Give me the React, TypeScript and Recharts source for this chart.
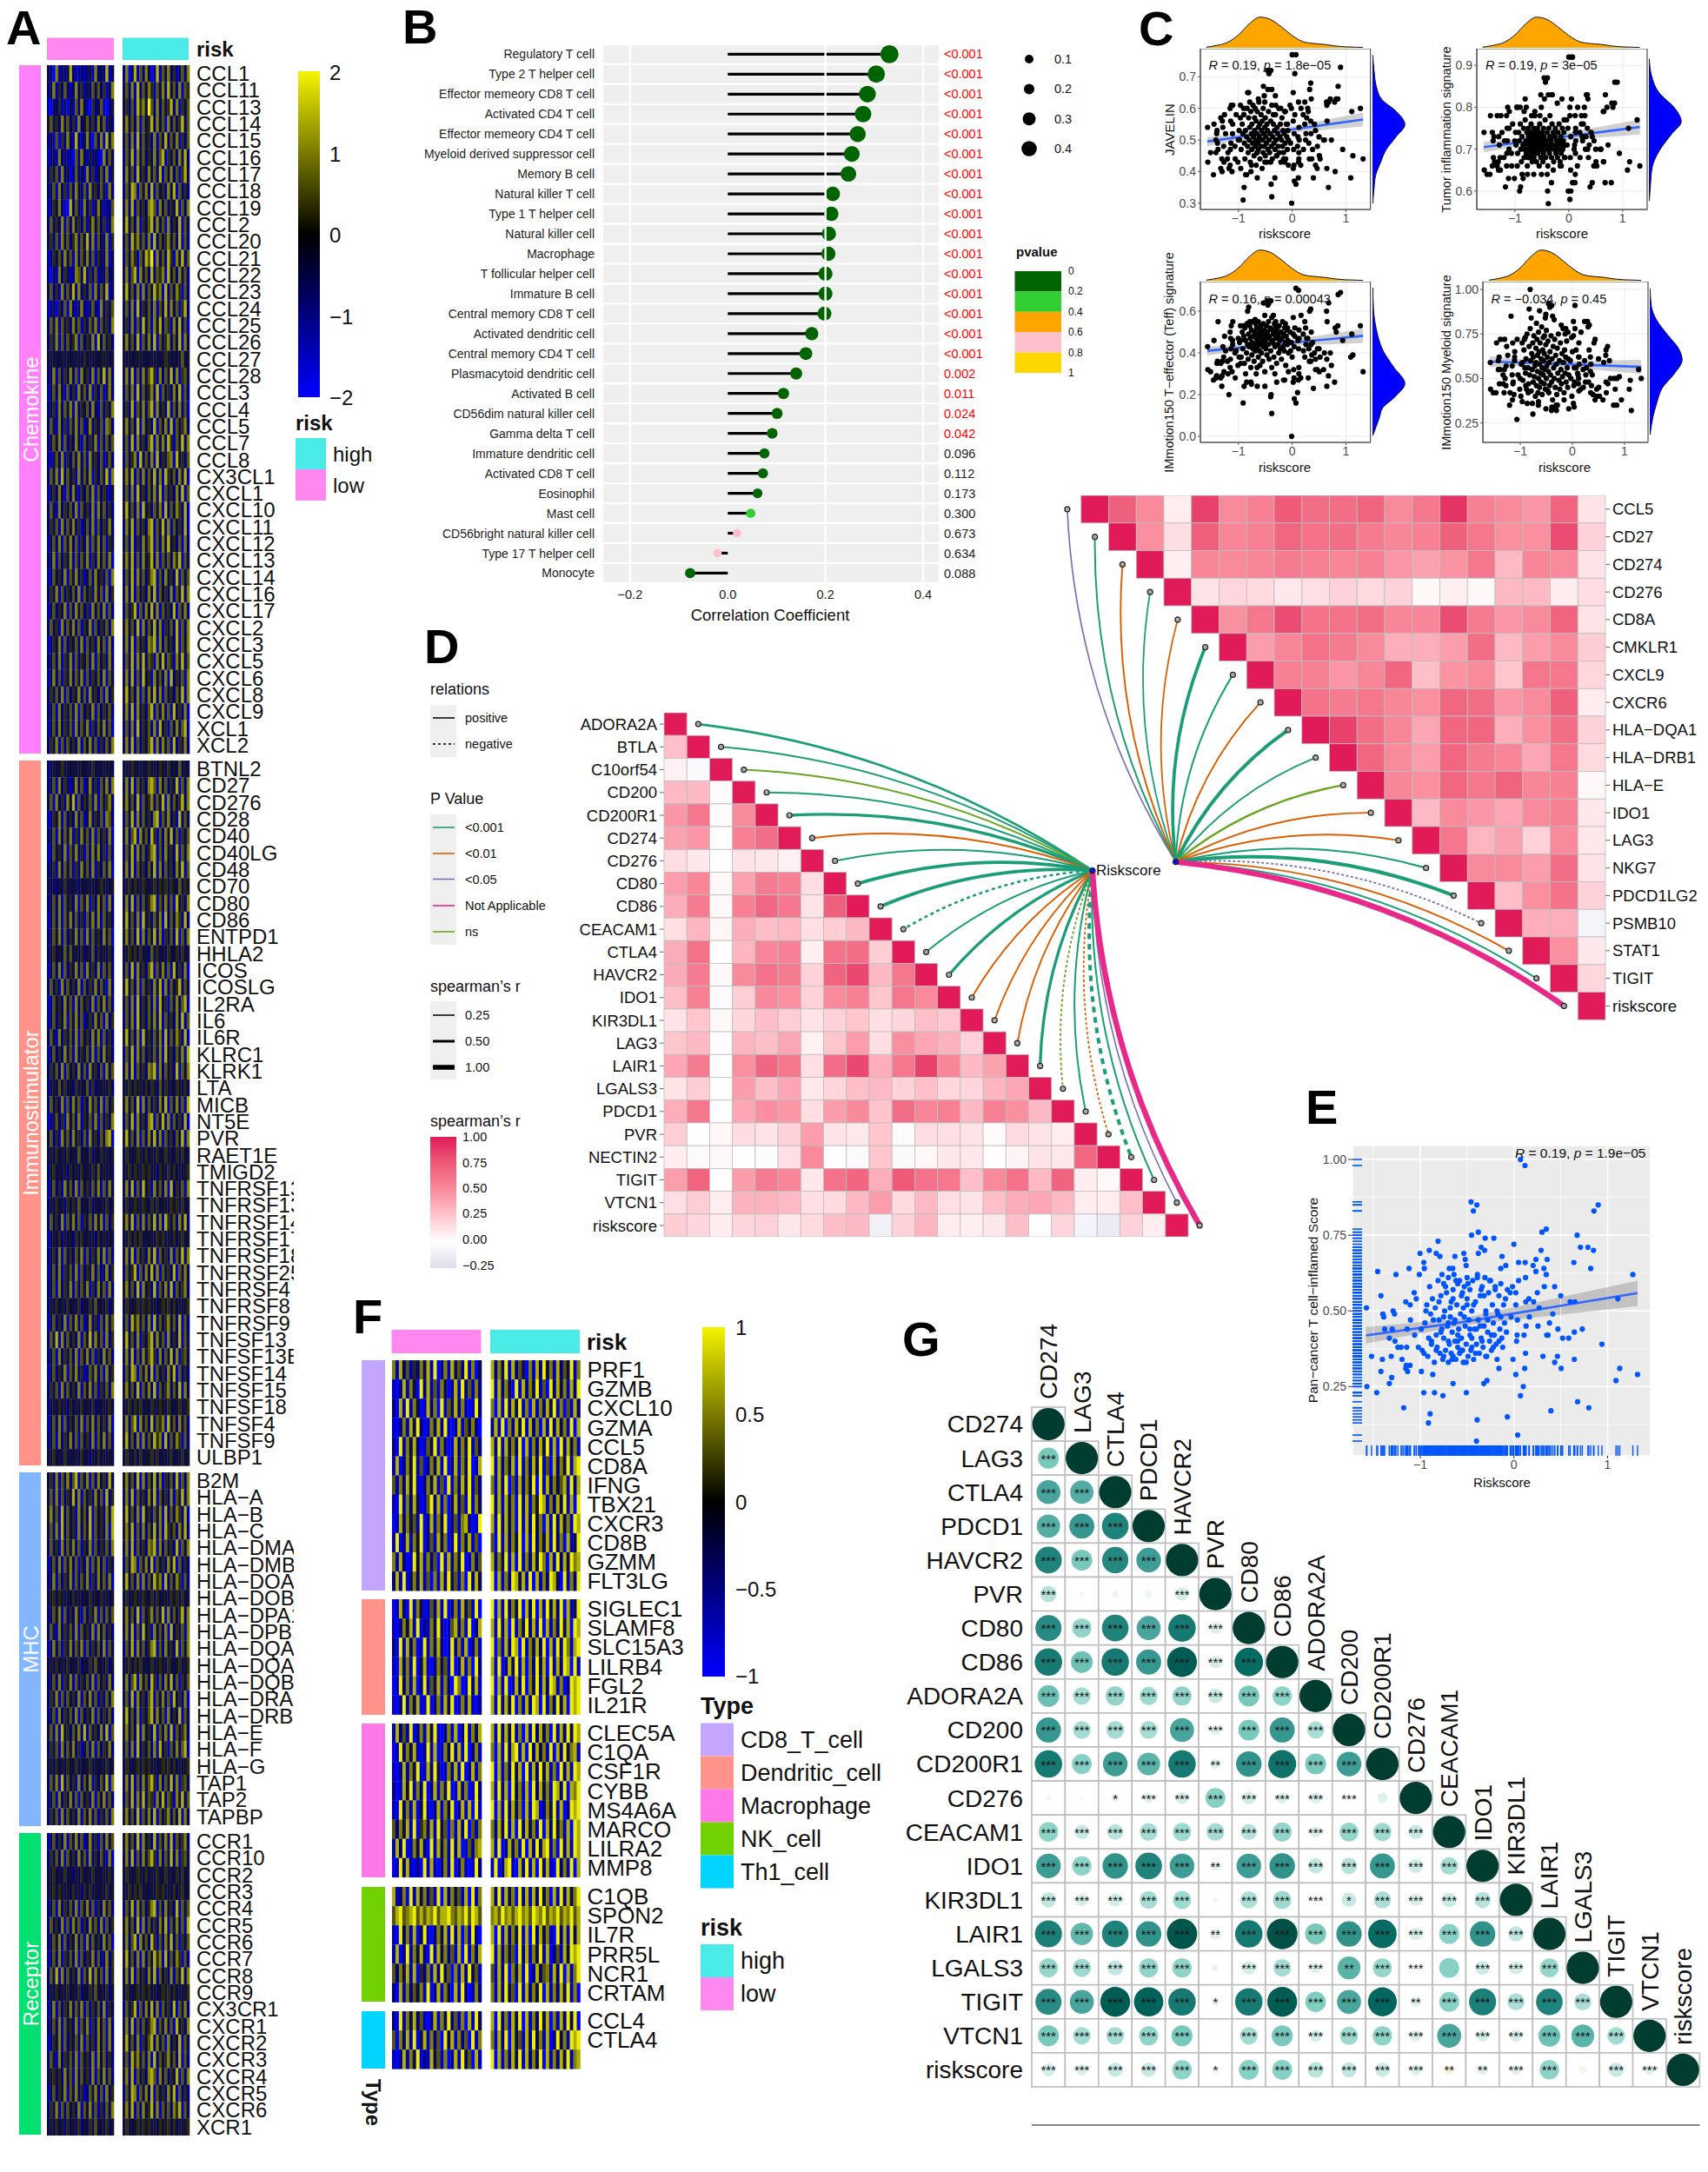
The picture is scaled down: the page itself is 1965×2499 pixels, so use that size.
import React from 'react';
import { ScatterChart, Scatter, XAxis, YAxis, ComposedChart, BarChart, Bar, Line, Area, AreaChart, CartesianGrid, ReferenceLine, ReferenceArea } from 'recharts';

const FONT = '"Liberation Sans", Arial, sans-serif';
const minus = (s: any) => String(s).replace('-', '\u2212');

// ---------- Panel A ----------
const chemokineGenes = ['CCL1','CCL11','CCL13','CCL14','CCL15','CCL16','CCL17','CCL18','CCL19','CCL2','CCL20','CCL21','CCL22','CCL23','CCL24','CCL25','CCL26','CCL27','CCL28','CCL3','CCL4','CCL5','CCL7','CCL8','CX3CL1','CXCL1','CXCL10','CXCL11','CXCL12','CXCL13','CXCL14','CXCL16','CXCL17','CXCL2','CXCL3','CXCL5','CXCL6','CXCL8','CXCL9','XCL1','XCL2'];
const immunoGenes = ['BTNL2','CD27','CD276','CD28','CD40','CD40LG','CD48','CD70','CD80','CD86','ENTPD1','HHLA2','ICOS','ICOSLG','IL2RA','IL6','IL6R','KLRC1','KLRK1','LTA','MICB','NT5E','PVR','RAET1E','TMIGD2','TNFRSF13B','TNFRSF13C','TNFRSF14','TNFRSF17','TNFRSF18','TNFRSF25','TNFRSF4','TNFRSF8','TNFRSF9','TNFSF13','TNFSF13B','TNFSF14','TNFSF15','TNFSF18','TNFSF4','TNFSF9','ULBP1'];
const mhcGenes = ['B2M','HLA\u2212A','HLA\u2212B','HLA\u2212C','HLA\u2212DMA','HLA\u2212DMB','HLA\u2212DOA','HLA\u2212DOB','HLA\u2212DPA1','HLA\u2212DPB1','HLA\u2212DQA1','HLA\u2212DQA2','HLA\u2212DQB1','HLA\u2212DRA','HLA\u2212DRB1','HLA\u2212E','HLA\u2212F','HLA\u2212G','TAP1','TAP2','TAPBP'];
const receptorGenes = ['CCR1','CCR10','CCR2','CCR3','CCR4','CCR5','CCR6','CCR7','CCR8','CCR9','CX3CR1','CXCR1','CXCR2','CXCR3','CXCR4','CXCR5','CXCR6','XCR1'];

const chemokineLow = [
'320713238212213317232813','237152631372514263625137','103251304162731052361024','463527362517246352736142','231605273182137206271837','123172312062731423107263','253617240262317251362714','236172516273261735263172','125372108263172513731226','263527162735261473625137',
'352617362572638271632715','125362736172637261532713','203172531276381526132623','362517263827252617263813','123052617213721362172536','263716352736152637163527','253716263571625371826352','343434343434353434344434','237162537261735271638272','136273162517362715261372',
'235172637172536273162537','263172516372613725361762','236371625273162537162636','213627152637261735261362','263718263517263715263817','135273162731526371625314','263172536271635271736252','253617263725136271625372','136271637261527163726153','237162537162637152736271',
'126352716372513627352617','253716253627163527361725','136253716273625173627162','263517263726153716253627','125371625362716352736172','236271537162536271635272','137261537263716253627163','253627162537261735261725','236172536271625371625362','136272536172637152637261','253716263527163726152637'];
const chemokineHigh = [
'270381627302816372513627','362718263751637283627165','352618573962726358271536','473627163582736172635826','362718263527163826371526','263817362537268153627382','273618352736281637261583','263871637281635273816252','372816352786173625381627','483627153682736172538163',
'362857362718263573628162','263751638691736285173826','372681736282657183627362','483627172638571826375162','362718253627163827361582','352716283617382651738261','473628163728163572638173','434344434343434543434634','372816273685172638271563','263718263572816352738162',
'352816372681735281637261','473628173528163728163572','362817352681737285163827','263571826371825367183526','473816272638271853627381','362718352637281635272816','483627183526371826375281','273816352781638271635281','362815273681627383526172','473816273582716362758163',
'263817362578162735281636','372816352738163527163827','263581627382716352816372','473628172638271536281627','372816352768172635281637','263817382651738265173826','372816283517362718253617','483627162738271635263817','372817352681637261835271','262718253627183516372681','372816253681727361825372'];
const immunoLow = [
'234345343434434353434343','236172531372613725163727','361725273816253627163572','125371625272613725361762','236172637152736271635271','126352716372516273725162','235172636152736271526371','333243534342434343453434','236271635271637152736172','136271637262516372716352',
'236371625372617263527361','245343636343524362534352','136271625372617352716362','263517263527162537263172','126352736172635271637262','136253716372613527361725','263172536271635273716252','136252736172536271627352','253627163527261735261736','234363534253436252434352',
'263527162736152736271635','123625173627153627162537','362517362735261735263781','343534353436343524353434','245343425343534353634343','136251736271635263716273','243534253536343524343534','263527163726153627371625','134352434253534342534343','235271635263716253727162',
'136271536271625372613725','236172537162637152736172','243534353435243536343524','136252716372613725162736','263817263527163827361725','236172536271637261527362','136253716372512637261735','253617263527163726153627','234353425343534352434353','136271625362716372635271','236172537261635271637262','345343534343534243534343'];
const immunoHigh = [
'343543434534354353436343','372816352786173625381627','473628163572638172635827','263817263527816372518263','372681736285162738261536','263817362578162735281637','372816352638172635273816','345354354345354535436354','372816263578163726183527','483627183526371826375282',
'473628172638271536281627','345453534263534354353534','362817352681637261835271','483627163527381726358263','362718253627183516372681','263718352637281635272816','483627183526371826375281','263817362536271835263718','372816352768172635281637','345354435354263534354353',
'473628172635273816372618','263817352781638271635281','483627162738271635263817','354345435343534534353534','345354354534254353534345','372816283517362718253617','353454354353534435453534','473816272638271853627382','345354534343545343534534','372816352738163527163827',
'263581627382716352816373','473628173528163728163572','354345354534345453534345','362857362718263573628162','483627153682736172538163','372816273685172638271563','263871637281635273816252','473628163728163572638173','345354534353454354345345','372681736282657183627362','483627172638571826375162','354353534453534345343534'];
const mhcLow = [
'352716372681637162735283','362716253827163527361825','473618263517362816352738','362718263517263816352718','263517263726153716253627','136271637261527163726153','237162537162637152736271','345354343534343534353434','236371625273162537162636','263172536271635271736252',
'137261537263716253627163','343534353435243536343524','236271537162536271635272','253716263527163726152637','236172536271625371625362','362718352637281635272816','253617263725136271625372','343534354353434534343534','263718263517263715263817','236172537261635271637262','253617263527163726153627'];
const mhcHigh = [
'473628172638271536281627','372816352738163527163827','483627183526371826375281','473816272638271853627382','372816352768172635281637','263871637281635273816252','483627172638571826375162','353454354353534435453534','473628163572638172635827','372816283517362718253617',
'263817362578162735281637','345354534353454354345345','372681736285162738261536','362817352681637261835271','483627153682736172538163','473628173528163728163572','362718253627183516372681','354345354534345453534345','372816273685172638271563','263817382651738265173826','473628163728163572638173'];
const receptorLow = [
'136252716372613725162736','253627163527361725263171','345343534243534353434353','345354343534253534343534','236172536271637261527362','263527162736152736271635','236371625372617263527361','136271536271625372613725','263817263527163827361725','243534353435243536343524',
'137162537263716253627153','236271635271637152736172','125371625362716352736172','263172536271635271736252','345352736172635271637262','136253716372512637261735','253716263527163726152637','343534253435243536343534'];
const receptorHigh = [
'473628173528163728163572','372816273685172638271563','354345435343534534353534','345354534343545343534534','263817362578162735281636','473628172635273816372618','372681736285162738261536','483627172638571826375162','372816352738163527163827','354345354534345453534345',
'263581627382716352816372','372816263578163726183527','483627153682736172538163','362857362718263573628162','472816352786173625381627','263871637281635273816252','473816273582716362758163','354345354534354453534345'];

// ---------- Panel F ----------
const cd8Genes = ['PRF1','GZMB','CXCL10','GZMA','CCL5','CD8A','IFNG','TBX21','CXCR3','CD8B','GZMM','FLT3LG'];
const dcGenes = ['SIGLEC1','SLAMF8','SLC15A3','LILRB4','FGL2','IL21R'];
const macGenes = ['CLEC5A','C1QA','CSF1R','CYBB','MS4A6A','MARCO','LILRA2','MMP8'];
const nkGenes = ['C1QB','SPON2','IL7R','PRR5L','NCR1','CRTAM'];
const th1Genes = ['CCL4','CTLA4',''];
const cd8Low = ['71826152738190271836291703','10281730928161730281926172','20819173018270916382710192','10271839201738291028163720','20917382016391720182739162','18027391602738190281739018','61728391027381609172839162','10917283016928170382619173','01827361902817390261782019','19028173902618370291738160','71820193817260918273901726','28190372816071829361709283'];
const cd8High = ['82739182630718293718263917','91827309182739160928371829','70819283917081728391706182','28190728391827081928371908','82918372908172839180928371','91827380917283916082739189','71829061827390918273681928','92818370928174981728391809','81928370918293708192837198','60918273908192738192708139','82739180917283970819283978','90817298381908172983091729'];
const dcLow = ['01820917301628190271836190','10273819021739201682719028','20918270191738201927180271','10827190381027361902817092','01927180291638172097019281','10291738019027183901728102'];
const dcHigh = ['90819273908290819382908139','81928091739281908172938098','90718298091738290819297189','81902839180729380918298091','90819018290739182981702989','81928390718298091729380989'];
const macLow = ['18261902718391027180291738','01927381029180173928190271','10281739018293017281902817','20183917290281739018270192','10927180391028173902818091','62738190572819360718290617','18290173820918371928016278','01928102091810271902710192'];
const macHigh = ['81928391708192837091829398','70819289180928371908293781','90817293809182938170928198','81928093718092837198290879','90819283708198027391802989','72839180928371908293718098','81902837190829389170928198','19028910829180928109271908'];
const nkLow = ['81270918372619082736180917','68967896868796889768796986','10927180391027381928071920','18029173820918372618091728','62738180527182936071829361','20817263719028173081920172'];
const nkHigh = ['82918370928182937081928379','78697868978698796879687968','80918273918092837109281938','91827360928173918026183989','61829073819028367182908179','71829360918273908172839170'];
const th1Low = ['20917382610281739261708193','60728190381726093817260917','10281739021836170281936081'];
const th1High = ['80927183908172938071829390','71829083618293718029371989','90817283918273908172839178'];

// ---------- Panel B ----------
const immuneCells = ['Regulatory T cell','Type 2 T helper cell','Effector memeory CD8 T cell','Activated CD4 T cell','Effector memeory CD4 T cell','Myeloid derived suppressor cell','Memory B cell','Natural killer T cell','Type 1 T helper cell','Natural killer cell','Macrophage','T follicular helper cell','Immature  B cell','Central memory CD8 T cell','Activated dendritic cell','Central memory CD4 T cell','Plasmacytoid dendritic cell','Activated B cell','CD56dim natural killer cell','Gamma delta T cell','Immature dendritic cell','Activated CD8 T cell','Eosinophil','Mast cell','CD56bright natural killer cell','Type 17 T helper cell','Monocyte'];
const immuneCor = [0.331,0.304,0.286,0.277,0.266,0.254,0.247,0.215,0.212,0.207,0.206,0.2,0.2,0.198,0.172,0.16,0.14,0.114,0.101,0.091,0.075,0.072,0.061,0.047,0.019,-0.021,-0.077];
const immuneP = ['<0.001','<0.001','<0.001','<0.001','<0.001','<0.001','<0.001','<0.001','<0.001','<0.001','<0.001','<0.001','<0.001','<0.001','<0.001','<0.001','0.002','0.011','0.024','0.042','0.096','0.112','0.173','0.300','0.673','0.634','0.088'];
const pColorOf = (p: string) => { const n = p === '<0.001' ? 0 : +p; return n < 0.2 ? '#006400' : n < 0.4 ? '#32cd32' : n < 0.6 ? '#ffa500' : n < 0.8 ? '#ffc0cb' : '#ffd700'; };
const bData = immuneCells.map((name, i) => ({ name, r: immuneCor[i], p: immuneP[i], range: immuneCor[i] >= 0 ? [0, immuneCor[i]] : [immuneCor[i], 0] }));

// ---------- Scatter data (shared riskscore, one list per score) ----------
const riskscore = [1.32,1.27,1.13,1.09,1.11,.94,.9,.855,.85,.82,.79,.8,.73,.71,.675,.68,.65,.645,.645,.64,.6,.585,.52,.5,.505,.47,.465,.435,.435,.415,.395,.38,.365,.35,.325,.355,.345,.345,.3,.29,.32,.31,.257,.27,.25,.235,.235,.205,.21,.16,.165,.13,.127,.124,.12,.118,.07,.124,.115,.108,.1,.07,.05,.05,.04,.034,.028,.02,.02,.02,0,-.015,-.01,.037,-.03,-.07,-.04,
-1.575,-1.57,-1.52,-1.465,-1.455,-1.42,-1.42,-1.405,-1.4,-1.39,-1.38,-1.33,-1.33,-1.31,-1.305,-1.3,-1.29,-1.275,-1.27,-1.26,-1.195,-1.24,-1.205,-1.177,-1.155,-1.14,-1.145,-1.15,-1.155,-1.135,-1.11,-1.12,-1.108,-1.105,
-1.065,-1.06,-1.043,-1.003,-1.01,-.988,-.963,-.963,-.957,-.913,-.895,-.904,-.867,-.848,-.81,-.83,-.79,-.758,-.65,-.508,-.458,-.396,-.433,-.38,-.452,-.307,-.214,-.35,-.313,-.38,-.127,-.087,-.14,-.393,-.4,-.322,-.288,-.16,-.63,-.535,-.52,-.51,-.69,-.653,-.768,
-.98,-.95,-.93,-.92,-.9,-.89,-.88,-.87,-.85,-.84,-.83,-.82,-.81,-.8,-.79,-.78,-.77,-.76,-.75,-.75,-.74,-.73,-.72,-.71,-.7,-.7,-.69,-.68,-.67,-.67,-.66,-.65,-.65,-.64,-.63,-.63,-.62,-.61,-.6,-.6,-.59,-.58,-.58,-.57,-.56,-.56,-.55,-.54,-.54,-.53,-.52,-.51,-.5,-.5,-.49,-.48,-.47,-.47,-.46,-.45,-.44,-.43,-.42,-.41,-.4,-.39,-.38,-.37,-.36,-.35,-.34,-.33,-.32,-.31,-.3,-.29,-.28,-.27,-.26,-.25,-.24,-.23,-.22,-.21,-.2,-.19,-.18,-.17,-.16,-.15,-.14,-.13,-.12,-.11,-.1,-.09,-.08,-.07];
const panCancerPct = [29,62,31,27,54,39,85,83,70,64,71,18,44,71,75,20,53,43,34,66,53,41,41,55,31,44,35,33,58,49,17,46,42,42,58,67,62,77,76,70,64,35,45,51,56,63,67,65,53,54,48,45,53,61,66,98,100,36,31,42,25,22,66,60,9,42,40,29,52,56,72,58,34,47,48,15,56,
51,25,35,23,63,55,30,34,49,48,44,41,26,35,28,44,50,49,40,62,34,38,38,18,53,44,38,32,31,30,32,64,52,47,
56,42,54,69,62,30,66,23,64,13,16,70,29,23,73,69,68,22,26,23,86,85,83,76,75,74,74,71,70,69,68,65,64,14,7,26,27,31,68,69,67,65,64,64,62,
37,46,52,35,58,49,40,54,33,51,42,38,60,47,36,55,44,34,59,41,50,37,56,45,33,61,39,48,53,36,43,57,35,62,47,40,34,52,59,38,44,36,60,49,41,55,37,51,33,58,45,39,54,61,35,47,42,57,37,50,60,34,44,53,39,62,47,36,55,41,58,38,45,61,50,35,43,56,40,60,37,52,46,42,57,39,34,49,55,44,59,41,38,52,46,54,43,57];
const javelinPct = [44,60,45,38,59,47,73,67,63,63,62,40,50,63,35,62,56,41,61,62,50,50,44,51,45,48,41,42,53,55,38,47,44,52,66,63,68,56,59,60,44,49,52,57,50,62,55,58,47,42,60,50,54,46,43,62,77,44,38,51,48,36,71,58,37,42,47,41,56,65,77,60,30,52,49,42,61,
54,43,46,39,55,50,46,52,53,49,47,57,41,44,40,56,54,48,43,58,46,52,44,41,60,49,56,47,42,61,52,40,55,61,
48,44,58,50,43,53,61,57,41,31,35,60,39,39,65,65,62,42,38,43,72,72,71,66,66,61,60,58,64,32,59,55,43,36,43,38,45,44,63,67,64,62,60,46,40,
50,47,55,52,58,49,44,53,51,60,48,46,57,50,54,43,59,52,47,55,49,61,51,45,53,57,48,50,42,56,52,46,59,49,54,47,62,51,44,55,50,58,48,53,41,56,50,46,60,52,48,54,45,57,51,49,43,55,53,47,59,50,46,52,56,48,61,44,51,55,49,53,47,58,50,45,54,52,48,60,46,51,55,43,50,57,48,53,46,52,59,49,44,55,51,47,53,50];
const tisPct = [66,77,67,65,75,69,86,86,81,80,62,81,71,80,62,83,79,67,67,79,70,70,66,70,67,72,66,62,73,74,61,71,68,70,83,82,83,75,78,80,73,70,72,76,73,78,76,74,68,66,80,72,75,74,64,78,92,69,62,71,70,62,92,82,60,65,68,58,78,80,92,75,60,73,71,68,77,
74,65,64,64,78,74,66,72,68,73,67,78,66,67,65,73,71,68,65,78,72,74,68,61,78,72,75,69,66,80,70,63,75,79,
69,66,76,72,63,74,80,80,66,60,61,80,64,63,82,79,80,68,64,64,87,87,86,83,82,83,81,78,83,57,82,77,66,60,64,62,65,66,79,78,83,80,78,68,64,
71,69,74,72,76,70,67,73,71,75,68,70,77,72,69,74,66,71,73,75,70,68,72,74,69,76,71,67,73,70,72,75,68,71,74,78,69,72,70,67,73,75,71,69,74,72,66,70,76,73,68,71,74,70,72,67,75,69,73,71,77,68,72,70,74,66,71,75,69,73,70,72,68,76,71,74,67,70,73,75,69,72,71,68,74,70,76,72,67,73,69,71,75,70,72,74,68,71];
const teffPct = [31,53,39,38,49,46,69,68,53,50,26,52,34,40,29,64,55,24,37,60,40,32,38,42,31,42,32,32,37,40,23,45,39,44,60,50,61,36,28,47,36,42,44,47,52,55,38,49,41,28,58,47,51,33,42,70,71,30,27,46,21,16,48,52,18,28,32,26,49,57,38,45,0,43,41,31,50,
43,32,31,27,46,28,28,29,35,36,55,35,28,24,29,36,43,38,31,48,30,41,36,20,50,42,47,37,33,53,46,31,44,55,
40,28,41,47,34,38,53,46,35,16,24,53,30,26,62,60,55,25,24,24,65,65,64,57,63,55,50,58,53,11,54,52,27,20,19,30,26,27,52,64,50,58,56,33,26,
45,38,50,42,48,35,52,46,40,54,44,37,49,43,53,47,33,51,45,39,55,42,48,36,50,44,41,54,47,30,52,46,43,49,38,55,45,41,51,34,48,44,53,40,47,50,36,54,43,46,51,31,49,45,42,53,39,47,50,44,55,37,48,52,41,46,33,51,45,49,38,54,43,47,50,35,52,44,48,40,53,46,42,50,37,47,55,43,49,41,52,45,34,48,51,44,46,40];
const myeloidPct = [50,55,32,44,49,38,51,50,35,44,35,50,50,60,68,47,42,66,48,63,59,38,40,61,45,40,44,38,72,70,41,52,46,42,80,58,54,62,79,82,66,48,52,56,48,60,82,55,45,44,76,58,62,70,50,62,66,43,47,52,53,56,91,78,48,34,46,36,74,82,65,73,40,56,50,33,60,
59,44,42,42,70,55,60,62,47,55,72,52,47,42,55,72,50,46,57,68,42,63,35,85,52,47,70,38,57,48,60,41,62,65,
27,72,52,50,44,40,70,37,59,56,46,73,36,42,100,89,84,30,37,33,92,91,90,85,42,32,80,83,35,33,78,76,75,34,32,33,35,38,88,74,84,86,81,35,36,
58,49,66,72,53,61,44,75,56,47,68,52,78,60,43,64,55,70,48,62,74,51,57,40,67,59,46,72,54,63,42,76,50,65,58,45,70,53,61,48,79,56,41,66,52,73,60,47,64,55,44,69,50,77,57,62,43,71,54,59,46,65,52,74,48,61,38,68,56,50,72,45,63,58,41,67,53,75,49,60,44,70,55,47,64,51,78,59,42,66,53,62,48,71,56,45,61,52];
const panExtraX = [-1.02,-.99,-.96,-.94,-.91,-.88,-.86,-.83,-.8,-.78,-.75,-.73,-.7,-.68,-.66,-.64,-.62,-.6,-.57,-.55,-.53,-.51,-.49,-.47,-.45,-.43,-.41,-.39,-.36,-.34,-.32,-.3,-.28,-.26,-.24,-.22,-.2,-.18,-.16,-.14,-.7,-.6,-.5,-.4,-.3,-.55,-.45,-.35,-.65,-.75];
const panExtraY = [38,44,36,50,41,39,47,37,53,43,35,58,40,51,34,46,60,42,37,56,48,33,59,44,38,52,36,61,45,40,55,35,47,60,42,38,58,50,40,48,46,40,52,44,49,37,41,57,54,48];

const densTopX = [-1.6,-1.4,-1.2,-1,-.8,-.6,-.4,-.2,0,.2,.4,.6,.8,1,1.2,1.32];
const densTopD = [.02,.08,.18,.42,.78,1,.92,.68,.4,.2,.14,.11,.06,.03,.02,.01];
const javelinDens = { y: [.3,.35,.4,.44,.48,.52,.56,.6,.64,.68,.72,.77], d: [.01,.05,.12,.28,.75,1,.72,.42,.25,.1,.05,.01] };
const tisDens = { y: [.58,.62,.66,.7,.73,.76,.8,.84,.88,.92], d: [.01,.08,.3,.82,1,.7,.32,.1,.05,.01] };
const teffDens = { y: [0,.1,.2,.3,.38,.46,.52,.58,.62,.68,.71], d: [.01,.03,.12,.32,.65,1,.72,.3,.22,.08,.01] };
const myeloidDens = { y: [.18,.28,.36,.44,.52,.58,.66,.74,.82,.9,1], d: [.01,.05,.22,.55,.9,1,.75,.38,.22,.1,.01] };

const fitX = [-1.58,-.55,1.32];
const javelinFit = { y: [.495,.52,.565], lo: [.48,.515,.543], hi: [.51,.525,.587] };
const tisFit = { y: [.705,.722,.753], lo: [.692,.717,.735], hi: [.718,.727,.771] };
const teffFit = { y: [.41,.435,.482], lo: [.388,.428,.448], hi: [.432,.442,.516] };
const myeloidFit = { y: [.595,.585,.565], lo: [.565,.575,.525], hi: [.625,.595,.605] };
const panFit = { y: [.419,.463,.559], lo: [.392,.451,.516], hi: [.447,.475,.6] };

// ---------- Network correlations ----------
const dGenes = ['ADORA2A','BTLA','C10orf54','CD200','CD200R1','CD274','CD276','CD80','CD86','CEACAM1','CTLA4','HAVCR2','IDO1','KIR3DL1','LAG3','LAIR1','LGALS3','PDCD1','PVR','NECTIN2','TIGIT','VTCN1','riskscore'];
const dMatrix = [[],[.28],[.06,-.04],[.3,.3,.02],[.45,.6,.02,.5],[.4,.45,.01,.55,.65],[.15,.1,0,.12,.1,.06],[.42,.52,.03,.4,.58,.55,.15],[.35,.58,.03,.55,.68,.6,.12,.72],[.14,.32,.04,.35,.28,.3,.14,.22,.3],[.36,.62,.01,.32,.52,.55,.07,.62,.65,.22],[.36,.58,.03,.5,.62,.58,.2,.7,.82,.3,.6],[.28,.55,-.03,.22,.5,.48,.2,.5,.55,.25,.6,.5],[.12,.25,.03,.18,.28,.22,.12,.2,.25,.14,.18,.28,.24],[.25,.3,.02,.32,.28,.38,.06,.25,.42,.14,.48,.38,.33,.2],[.38,.58,.01,.48,.68,.6,.14,.65,.82,.35,.6,.85,.52,.3,.4],[.12,.22,.01,.42,.28,.38,.1,.18,.28,.3,.2,.28,.18,.18,.32,.38],[.35,.6,.01,.38,.48,.45,.14,.42,.5,.26,.65,.52,.55,.3,.55,.48,.3],[.22,.01,.04,.15,.12,.2,.42,.12,.1,.25,.02,.15,.14,.12,.02,.16,.12,.08],[.08,-.03,.03,.01,-.02,.14,.5,.01,-.03,.25,-.04,.04,.1,.1,.01,.05,.12,.1,.68],[.42,.7,.01,.42,.58,.52,.1,.62,.68,.35,.75,.62,.6,.28,.5,.62,.3,.7,.08,.03],[.14,.22,.08,.33,.33,.3,.14,.16,.3,.42,.16,.3,.14,.12,.28,.35,.38,.3,.08,.08,.28],[.22,.18,.08,.18,.2,.1,.16,.28,.3,-.1,.2,.32,.08,.07,.1,.28,-.01,.18,-.08,-.15,.2,.08]];
const dLinkP = ['<0.001','<0.001','ns','<0.001','<0.001','<0.01','<0.001','<0.001','<0.001','<0.001','<0.001','<0.001','<0.01','<0.01','<0.01','<0.001','ns','<0.001','<0.01','<0.001','<0.001','<0.05','NA'];
const dLinkR = [.3,.18,.16,.18,.42,.18,.18,.5,.5,-.28,.18,.42,.17,.16,.16,.42,-.16,.18,-.15,-.55,.18,.1,1];
const uGenes = ['CCL5','CD27','CD274','CD276','CD8A','CMKLR1','CXCL9','CXCR6','HLA\u2212DQA1','HLA\u2212DRB1','HLA\u2212E','IDO1','LAG3','NKG7','PDCD1LG2','PSMB10','STAT1','TIGIT','riskscore'];
const uMatrix = [[.72,.5,.08,.85,.5,.55,.75,.65,.65,.7,.5,.6,.9,.55,.5,.45,.7,.12],[.48,.14,.72,.52,.55,.68,.62,.65,.58,.52,.55,.72,.6,.48,.48,.8,.2],[.07,.52,.5,.52,.58,.55,.52,.55,.45,.4,.46,.6,.3,.53,.5,.12],[.12,.18,.16,.1,.14,.2,.16,.2,.03,.07,.03,.3,.3,.08,.15],[.47,.6,.8,.62,.62,.65,.52,.52,.8,.58,.45,.5,.7,.12],[.42,.52,.62,.58,.5,.35,.35,.42,.65,.3,.42,.5,.22],[.55,.55,.45,.52,.68,.28,.46,.5,.25,.6,.6,.18],[.62,.58,.6,.52,.48,.68,.65,.45,.5,.72,.08],[.85,.65,.52,.38,.68,.68,.35,.48,.65,.2],[.68,.5,.42,.68,.58,.52,.38,.6,.16],[.52,.48,.68,.6,.7,.52,.55,.03],[.3,.5,.45,.38,.5,.55,.1],[.6,.32,.4,.2,.5,.1],[.5,.5,.42,.65,.12],[.28,.48,.62,.2],[.35,.35,-.08],[.48,.1],[.18],[]];
const uLinkP = ['<0.05','<0.001','<0.01','<0.001','<0.01','<0.001','<0.001','<0.01','<0.001','<0.001','ns','<0.01','<0.01','<0.001','<0.001','<0.05','<0.01','<0.001','NA'];
const uLinkR = [.12,.18,.17,.14,.14,.5,.17,.17,.55,.17,.25,.17,.17,.2,.55,-.15,.17,.17,1];
const PCOL: any = { '<0.001': '#1b9e77', '<0.01': '#d95f02', '<0.05': '#7570b3', NA: '#e7298a', ns: '#66a61e' };

// ---------- Panel G ----------
const gGenes = ['CD274','LAG3','CTLA4','PDCD1','HAVCR2','PVR','CD80','CD86','ADORA2A','CD200','CD200R1','CD276','CEACAM1','IDO1','KIR3DL1','LAIR1','LGALS3','TIGIT','VTCN1','riskscore'];
const gMatrix = [[],[.42],[.55,.52],[.52,.6,.68],[.68,.42,.66,.58],[.25,.02,.05,.05,.16],[.65,.35,.68,.55,.72,.12],[.72,.45,.72,.6,.85,.14,.78],[.45,.3,.35,.32,.35,.2,.42,.36],[.6,.3,.3,.3,.55,.1,.42,.6,.28],[.72,.38,.58,.5,.72,.1,.62,.75,.42,.58],[.03,.01,.06,.1,.14,.38,.16,.12,.12,.01,.1],[.36,.2,.24,.3,.32,.3,.25,.35,.12,.34,.32,.2],[.58,.36,.62,.68,.58,.08,.58,.62,.22,.25,.6,.18,.3],[.22,.14,.16,.3,.32,.03,.28,.32,.05,.2,.28,.14,.2,.25],[.7,.48,.68,.62,.88,.1,.72,.9,.42,.62,.78,.14,.38,.62,.22],[.34,.32,.22,.35,.36,.04,.16,.3,.1,.5,.34,.02,.38,.18,.16,.34],[.65,.55,.85,.82,.72,.06,.72,.85,.4,.55,.8,.1,.38,.7,.28,.68,.28],[.42,.3,.3,.35,.42,.01,.3,.42,.14,.32,.36,.12,.55,.14,.14,.45,.5,.3],[.16,.12,.2,.2,.36,-.05,.38,.38,.24,.22,.2,.12,-.09,.1,.1,.36,-.05,.2,.1]];
const gStars = ['','3','33','333','3333','30003','333333','3333333','33333333','333333333','3333323333','001333333302'.slice(0,11),'333333333333','3333323333333','33333033313333','333332333333333'.slice(0,15),'3333303332330333'.slice(0,16),'33333133333233333','333330333333333333','3333313333332233033'];
const gTicks = [-1,-.8,-.6,-.4,-.2,0,.2,.4,.6,.8,1];

// ---------- helpers ----------
const HEAT = ['#0000ff','#0000bb','#000080','#0a0a50','#12122a','#2a2a10','#55550a','#808000','#b0b000','#eeee00'];
const hex = (c: string) => [1,3,5].map(i => parseInt(c.slice(i,i+2),16));
const ramp = (stops: [number,string][], v: number) => {
  if (v <= stops[0][0]) return stops[0][1];
  for (let i = 1; i < stops.length; i++) if (v <= stops[i][0]) {
    const t = (v - stops[i-1][0]) / (stops[i][0] - stops[i-1][0]); const a = hex(stops[i-1][1]), b = hex(stops[i][1]);
    return `rgb(${a.map((x,k)=>Math.round(x+(b[k]-x)*t)).join(',')})`;
  }
  return stops[stops.length-1][1];
};
const PINK: [number,string][] = [[-.25,'#dfdcee'],[0,'#ffffff'],[.25,'#ffc6ce'],[.5,'#f98a9b'],[.75,'#ee5a78'],[1,'#e01b58']];
const BRBG: [number,string][] = [[-1,'#543005'],[-.8,'#8c510a'],[-.6,'#bf812d'],[-.4,'#dfc27d'],[-.2,'#f6e8c3'],[0,'#f8f8f4'],[.2,'#c7eae5'],[.4,'#80cdc1'],[.6,'#35978f'],[.8,'#01665e'],[1,'#003c30']];

const Pos = ({ left, top, children }: any) => <div style={{ position: 'absolute', left, top }}>{children}</div>;

function Heat({ left, top, rowH, cellW, gap, cols, genes, low, high, labelW, fontSize }: any) {
  const cells: any[] = [];
  low.forEach((s: string, r: number) => [...s].forEach((ch, i) => cells.push({ col: i + .5, row: r, v: +ch })));
  high.forEach((s: string, r: number) => [...s].forEach((ch, i) => cells.push({ col: cols + gap + i + .5, row: r, v: +ch })));
  const W = (2 * cols + gap) * cellW; const H = genes.length * rowH;
  const shape = (p: any) => <rect x={p.cx - cellW / 2} y={p.cy - rowH / 2} width={cellW + .3} height={rowH + .3} fill={HEAT[p.payload.v]} />;
  return <Pos left={left} top={top - 8}>
    <ScatterChart width={W + labelW} height={H + 16} margin={{ top: 8, bottom: 8, left: 0, right: 0 }}>
      <XAxis type="number" dataKey="col" domain={[0, 2 * cols + gap]} hide />
      <YAxis type="number" dataKey="row" orientation="right" reversed domain={[-.5, genes.length - .5]} ticks={genes.map((_: any, i: number) => i)} interval={0} width={labelW}
        tickFormatter={(i: number) => genes[i]} axisLine={false} tickLine={false} tickMargin={2} tick={{ fontSize, fill: '#111' }} />
      <Scatter data={cells} shape={shape} isAnimationActive={false} />
    </ScatterChart>
  </Pos>;
}

function Tri({ left, top, cell, genes, cells, ends, hub, domain, side, labelW, curv }: any) {
  const W = (domain[1] - domain[0]) * cell; const H = genes.length * cell;
  const cellShape = (p: any) => <rect x={p.cx - cell / 2} y={p.cy - cell / 2} width={cell} height={cell} fill={ramp(PINK, p.payload.v)} stroke="#bdbdbd" strokeWidth={.8} />;
  const endShape = (p: any) => {
    const e = p.payload; const hx = p.cx + (hub.col - e.col) * cell, hy = p.cy + (hub.row - e.row) * cell;
    const mx = (p.cx + hx) / 2, my = (p.cy + hy) / 2, dx = hx - p.cx, dy = hy - p.cy;
    const qx = mx + curv * dy, qy = my - curv * dx; const w = 1 + 5.5 * Math.abs(e.r);
    return <g>
      <path d={`M${hx},${hy} Q${qx},${qy} ${p.cx},${p.cy}`} fill="none" stroke={PCOL[e.p]} strokeWidth={w} strokeDasharray={e.r < 0 ? `${w * 1.6} ${w * 1.4}` : undefined} />
      <circle cx={p.cx} cy={p.cy} r={3} fill="#aaa" stroke="#222" strokeWidth={1.2} />
    </g>;
  };
  const hubShape = (p: any) => <circle cx={p.cx} cy={p.cy} r={3.2} fill="#1010e0" stroke="#111" strokeWidth={1} />;
  return <Pos left={left - (side === 'left' ? labelW : 0)} top={top}>
    <ScatterChart width={W + labelW} height={H} margin={{ top: 0, bottom: 0, left: 0, right: 0 }}>
      <XAxis type="number" dataKey="col" domain={domain} hide />
      <YAxis type="number" dataKey="row" orientation={side} reversed domain={[-.5, genes.length - .5]} ticks={genes.map((_: any, i: number) => i)} interval={0} width={labelW}
        tickFormatter={(i: number) => genes[i]} axisLine={false} tickSize={5} tickMargin={3} tick={{ fontSize: 18.5, fill: '#111' }} />
      <Scatter data={cells} shape={cellShape} isAnimationActive={false} />
      <Scatter data={ends} shape={endShape} isAnimationActive={false} />
      <Scatter data={[hub]} shape={hubShape} isAnimationActive={false} />
    </ScatterChart>
  </Pos>;
}

const pctPts = (ys: number[]) => ys.map((y, i) => ({ x: riskscore[i], y: y / 100 })).filter(p => p.x !== undefined);

function ScatterPanel({ left, top, w, h, xd, yd, yTicks, digits, ys, fit, dens, xAxisLabel }: any) {
  const yScale = yd[1] <= 1.1 ? 1 : 1;
  const pts = pctPts(ys);
  const pad = 48;
  const band = fitX.map((x, i) => ({ x, band: [fit.lo[i], fit.hi[i]] }));
  const line = fitX.map((x, i) => ({ x, y: fit.y[i] * yScale }));
  const dot = (p: any) => <circle cx={p.cx} cy={p.cy} r={3.1} fill="#000" />;
  const topD = densTopX.map((x, i) => ({ x, d: densTopD[i] }));
  const rightD = dens.y.map((y: number, i: number) => ({ y, d: dens.d[i] }));
  return <>
    <Pos left={left} top={top - 37}>
      <AreaChart width={w} height={36} data={topD} margin={{ top: 0, bottom: 0, left: 0, right: 0 }}>
        <XAxis type="number" dataKey="x" domain={xd} hide />
        <YAxis type="number" domain={[0, 1.02]} hide />
        <Area type="monotone" dataKey="d" fill="#ffa500" fillOpacity={1} stroke="#111" strokeWidth={1} isAnimationActive={false} dot={false} />
      </AreaChart>
    </Pos>
    <Pos left={left + w + 2} top={top}>
      <AreaChart width={38} height={h} layout="vertical" data={rightD} margin={{ top: 0, bottom: 0, left: 0, right: 0 }}>
        <XAxis type="number" domain={[0, 1.02]} hide />
        <YAxis type="number" dataKey="y" domain={yd} hide />
        <Area type="monotone" dataKey="d" fill="#0000ff" fillOpacity={1} stroke="#111" strokeWidth={1} isAnimationActive={false} dot={false} />
      </AreaChart>
    </Pos>
    <Pos left={left - pad} top={top}>
      <ComposedChart width={w + pad + 2} height={h + 30} margin={{ top: 0, right: 2, bottom: 0, left: 0 }}>
        <CartesianGrid stroke="#ececec" />
        <XAxis type="number" dataKey="x" domain={xd} ticks={[-1, 0, 1]} allowDataOverflow height={30} tickFormatter={minus} tick={{ fontSize: 14, fill: '#4d4d4d' }} tickSize={3} stroke="#555" />
        <YAxis type="number" dataKey="y" domain={yd} ticks={yTicks} allowDataOverflow width={pad} tickFormatter={(v: number) => v.toFixed(digits)} tick={{ fontSize: 14, fill: '#4d4d4d' }} tickSize={3} stroke="#555" />
        <ReferenceArea x1={xd[0]} x2={xd[1]} y1={yd[0]} y2={yd[1]} fill="none" stroke="#555" strokeWidth={1.2} ifOverflow="visible" />
        <Scatter data={pts} shape={dot} isAnimationActive={false} />
        <Area data={band} type="linear" dataKey="band" fill="#999" fillOpacity={.45} stroke="none" isAnimationActive={false} dot={false} />
        <Line data={line} type="linear" dataKey="y" stroke="#3366ff" strokeWidth={2.6} dot={false} isAnimationActive={false} />
      </ComposedChart>
    </Pos>
  </>;
}

function PanelE() {
  const xd = [-1.724, 1.46], yd = [0.0214, 1.046];
  const pts = [...pctPts(panCancerPct), ...panExtraX.map((x, i) => ({ x, y: panExtraY[i] / 100 }))];
  const band = fitX.map((x, i) => ({ x, band: [panFit.lo[i], panFit.hi[i]] }));
  const line = fitX.map((x, i) => ({ x, y: panFit.y[i] }));
  const B = '#0055ff';
  const dot = (p: any) => <circle cx={p.cx} cy={p.cy} r={3.1} fill={B} />;
  const rugY = pts.map(p => ({ x: xd[0], y: p.y }));
  const rugX = pts.map(p => ({ x: p.x, y: yd[0] }));
  const ry = (p: any) => <line x1={p.cx} x2={p.cx + 11} y1={p.cy} y2={p.cy} stroke={B} strokeWidth={1.6} />;
  const rx = (p: any) => <line x1={p.cx} x2={p.cx} y1={p.cy} y2={p.cy - 12} stroke={B} strokeWidth={1.4} />;
  return <Pos left={1506} top={1318}>
    <ComposedChart width={395} height={387} margin={{ top: 0, right: 2, bottom: 0, left: 0 }}>
      <CartesianGrid fill="#ebebeb" stroke="#fff" strokeWidth={1.6} />
      {[-1.5, -.5, .5].map(x => <ReferenceLine key={x} x={x} stroke="#fff" strokeWidth={.7} />)}
      {[.125, .375, .625, .875].map(y => <ReferenceLine key={y} y={y} stroke="#fff" strokeWidth={.7} />)}
      <XAxis type="number" dataKey="x" domain={xd} ticks={[-1, 0, 1]} allowDataOverflow height={30} axisLine={false} tickFormatter={minus} tick={{ fontSize: 14, fill: '#4d4d4d' }} tickSize={3} stroke="#333" />
      <YAxis type="number" dataKey="y" domain={yd} ticks={[.25, .5, .75, 1]} allowDataOverflow width={50} axisLine={false} tickFormatter={(v: number) => v.toFixed(2)} tick={{ fontSize: 14, fill: '#4d4d4d' }} tickSize={5} stroke="#333" />
      <Scatter data={rugY} shape={ry} isAnimationActive={false} />
      <Scatter data={rugX} shape={rx} isAnimationActive={false} />
      <Scatter data={pts} shape={dot} isAnimationActive={false} />
      <Area data={band} type="linear" dataKey="band" fill="#999" fillOpacity={.5} stroke="none" isAnimationActive={false} dot={false} />
      <Line data={line} type="linear" dataKey="y" stroke="#3366ff" strokeWidth={2.6} dot={false} isAnimationActive={false} />
    </ComposedChart>
  </Pos>;
}

function PanelB() {
  const shape = (p: any) => {
    const r = p.payload.r; const a = p.x, b = p.x + p.width; const end = r >= 0 ? Math.max(a, b) : Math.min(a, b); const start = r >= 0 ? Math.min(a, b) : Math.max(a, b);
    return <g>
      <line x1={start} x2={end} y1={p.y + p.height / 2} y2={p.y + p.height / 2} stroke="#000" strokeWidth={3.2} />
      <circle cx={end} cy={p.y + p.height / 2} r={4.5 + 18 * Math.abs(r)} fill={pColorOf(p.payload.p)} />
    </g>;
  };
  const pTick = (t: any) => { const p = bData.find(d => d.name === t.payload.value); const sig = p && (p.p === '<0.001' || +p.p < .05);
    return <text x={t.x - 2} y={t.y + 5} fontSize={14.5} fill={sig ? '#ff0000' : '#222'}>{p && p.p}</text>; };
  return <Pos left={394} top={51}>
    <BarChart width={766} height={655} layout="vertical" data={bData} margin={{ top: 0, bottom: 0, left: 0, right: 0 }} barSize={20.7}>
      <XAxis type="number" domain={[-.255, .432]} allowDataOverflow ticks={[-.2, 0, .2, .4]} height={35} axisLine={false} tickLine={false} tickMargin={2} tickFormatter={(v: number) => minus(v.toFixed(1))} tick={{ fontSize: 14.5, fill: '#222' }} />
      <YAxis type="category" dataKey="name" width={300} interval={0} axisLine={false} tickLine={false} tickMargin={4} tick={{ fontSize: 14, fill: '#222' }} />
      <YAxis yAxisId="p" type="category" orientation="right" dataKey="name" width={80} interval={0} axisLine={false} tickLine={false} tick={pTick} />
      <Bar dataKey="range" background={{ fill: '#efefef' }} shape={shape} isAnimationActive={false} />
      {[-.2, .2, .4].map(x => <ReferenceLine key={x} x={x} stroke="#fff" strokeWidth={2.4} />)}
    </BarChart>
  </Pos>;
}

function PanelG() {
  const n = gGenes.length; const cw = 38.42, ch = 39.1; const R = 18.6;
  const cells: any[] = [];
  gMatrix.forEach((row: number[], i) => { row.forEach((v, j) => cells.push({ col: j, row: i, v, s: +(gStars[i] || '')[j] || 0 })); cells.push({ col: i, row: i, v: 1, s: 0, diag: gGenes[i] }); });
  const shape = (p: any) => { const d = p.payload; return <g>
    <rect x={p.cx - cw / 2} y={p.cy - ch / 2} width={cw} height={ch} fill="#fff" stroke="#bdbdbd" strokeWidth={1.6} />
    <circle cx={p.cx} cy={p.cy} r={R * Math.sqrt(Math.abs(d.v))} fill={ramp(BRBG, d.v)} />
    {d.s > 0 && <text x={p.cx} y={p.cy + 6} fontSize={15} textAnchor="middle" fill="#111">{'*'.repeat(d.s)}</text>}
    {d.diag && <text transform={`rotate(-90 ${p.cx + 10} ${p.cy - ch / 2 - 9})`} x={p.cx + 10} y={p.cy - ch / 2 - 9} fontSize={28} fill="#111">{d.diag}</text>}
  </g>; };
  return <Pos left={1187 - 170} top={1619 - 110}>
    <ScatterChart width={170 + n * cw + 6} height={110 + n * ch + 2} margin={{ top: 110, right: 6, bottom: 2, left: 0 }}>
      <XAxis type="number" dataKey="col" domain={[-.5, n - .5]} hide />
      <YAxis type="number" dataKey="row" reversed domain={[-.5, n - .5]} ticks={gGenes.map((_, i) => i)} interval={0} width={170} axisLine={false} tickLine={false} tickMargin={4}
        tickFormatter={(i: number) => gGenes[i]} tick={{ fontSize: 28, fill: '#111' }} />
      <Scatter data={cells} shape={shape} isAnimationActive={false} />
    </ScatterChart>
  </Pos>;
}

function GBar() {
  return <Pos left={1187 - 25} top={2417}>
    <ComposedChart width={768.5 + 50} height={82} margin={{ top: 0, right: 25, bottom: 0, left: 25 }}>
      <defs><linearGradient id="brbg" x1="0" x2="1" y1="0" y2="0">{BRBG.map(([v, c]) => <stop key={v} offset={(v + 1) / 2} stopColor={c} />)}</linearGradient></defs>
      <XAxis type="number" domain={[-1, 1]} ticks={gTicks} interval={0} height={54} tickFormatter={minus} tick={{ fontSize: 28, fill: '#111' }} tickSize={11} tickMargin={7} stroke="#111" />
      <YAxis type="number" domain={[0, 1]} hide />
      <ReferenceArea x1={-1} x2={1} y1={0} y2={1} fill="url(#brbg)" fillOpacity={1} stroke="#111" strokeWidth={1.5} ifOverflow="visible" />
    </ComposedChart>
  </Pos>;
}

const T = ({ x, y, s, size = 14, bold, fill = '#111', anchor = 'start', rot }: any) =>
  <text x={x} y={y} fontSize={size} fontWeight={bold ? 700 : 400} fill={fill} textAnchor={anchor} dominantBaseline="central" transform={rot !== undefined ? `rotate(${rot} ${x} ${y})` : undefined}>{s}</text>;
const Letter = ({ x, y, s }: any) => <text x={x} y={y} fontSize={56} fontWeight={700} fill="#000">{s}</text>;
const RP = ({ x, y, r, p, size = 14.5 }: any) => <text x={x} y={y} fontSize={size} fill="#111" dominantBaseline="central"><tspan fontStyle="italic">R</tspan>{` = ${r}, `}<tspan fontStyle="italic">p</tspan>{` = ${p}`}</text>;

function Overlay() {
  const LOW = '#ff88f0', HIGH = '#4aebe6';
  const annA: [number, number, string, string][] = [[75, 867, '#ff80fa', 'Chemokine'], [875, 1686, '#ff9289', 'Immunostimulator'], [1694, 2101, '#82b7ff', 'MHC'], [2109, 2456, '#00e070', 'Receptor']];
  const annF: [number, number, string][] = [[1565, 1830, '#c2a6ff'], [1840, 1973, '#ff9289'], [1983, 2160, '#ff78e8'], [2171, 2303, '#72d100'], [2314, 2380, '#00d4ff']];
  const typeLeg: [string, string][] = [['CD8_T_cell', '#c2a6ff'], ['Dendritic_cell', '#ff9289'], ['Macrophage', '#ff78e8'], ['NK_cell', '#72d100'], ['Th1_cell', '#00d4ff']];
  const pLeg = ['#006400', '#32cd32', '#ffa500', '#ffc0cb', '#ffd700'];
  const relY: [number, string, string, boolean][] = [[952, '<0.001', '#1b9e77', false], [982, '<0.01', '#d95f02', false], [1011.5, '<0.05', '#7570b3', false], [1042, 'Not Applicable', '#e7298a', false], [1072, 'ns', '#66a61e', false]];
  return <svg width={1965} height={2499} style={{ position: 'absolute', left: 0, top: 0, pointerEvents: 'none', fontFamily: FONT }}>
    <defs>
      <linearGradient id="hm" x1="0" x2="0" y1="0" y2="1"><stop offset="0" stopColor="#f4f400" /><stop offset=".5" stopColor="#000" /><stop offset="1" stopColor="#0000ff" /></linearGradient>
      <linearGradient id="sp" x1="0" x2="0" y1="0" y2="1"><stop offset="0" stopColor="#e01b58" /><stop offset=".2" stopColor="#ee5a78" /><stop offset=".4" stopColor="#f98a9b" /><stop offset=".6" stopColor="#ffc6ce" /><stop offset=".8" stopColor="#fff" /><stop offset="1" stopColor="#dfdcee" /></linearGradient>
    </defs>
    <Letter x={7} y={51} s="A" /><Letter x={463} y={50} s="B" /><Letter x={1310} y={52} s="C" /><Letter x={488} y={763} s="D" /><Letter x={1502} y={1293} s="E" /><Letter x={406} y={1534} s="F" /><Letter x={1038} y={1560} s="G" />

    {/* A annotations */}
    <rect x={54} y={43.5} width={77} height={25.5} fill={LOW} /><rect x={141} y={43.5} width={76} height={25.5} fill={HIGH} />
    <T x={226} y={56} s="risk" size={24} bold />
    {annA.map(([a, b, c, s]) => <g key={s}><rect x={22} y={a} width={25} height={b - a} fill={c} /><T x={35} y={(a + b) / 2} s={s} size={24} fill="#fff" anchor="middle" rot={-90} /></g>)}
    <rect x={343} y={82} width={25} height={375} fill="url(#hm)" />
    {[['2', 83], ['1', 177], ['0', 270], ['\u22121', 364], ['\u22122', 457]].map(([s, y]: any) => <T key={s} x={s.length > 1 ? 379 : 379} y={y} s={s} size={24} />)}
    <T x={340} y={486} s="risk" size={24} bold />
    <rect x={340} y={504} width={35} height={36} fill={HIGH} /><rect x={340} y={540} width={35} height={36} fill={LOW} />
    <T x={383} y={522} s="high" size={24} /><T x={383} y={558} s="low" size={24} />

    {/* B legend */}
    {[[68, 5, '0.1'], [102.4, 6, '0.2'], [136.8, 7.5, '0.3'], [171, 8.8, '0.4']].map(([y, r, s]: any) => <g key={s}><circle cx={1184} cy={y} r={r} fill="#000" /><T x={1213} y={y} s={s} size={14.5} /></g>)}
    <T x={1169} y={289} s="pvalue" size={15} bold />
    {pLeg.map((c, i) => <rect key={c} x={1167.5} y={312 + i * 23.4} width={53.5} height={23.4} fill={c} />)}
    {['0', '0.2', '0.4', '0.6', '0.8', '1'].map((s, i) => <T key={s} x={1229} y={312 + i * 23.4} s={s} size={12} />)}
    <T x={886} y={707} s="Correlation Coefficient" size={18.5} anchor="middle" />

    {/* C labels */}
    <RP x={1390.5} y={75} r="0.19" p={'1.8e\u221205'} /><RP x={1709} y={75} r="0.19" p={'3e\u221205'} /><RP x={1390.5} y={344} r="0.16" p="0.00043" /><RP x={1715.6} y={344} r={'\u22120.034'} p="0.45" />
    <T x={1478} y={268} s="riskscore" size={15} anchor="middle" /><T x={1797} y={268} s="riskscore" size={15} anchor="middle" /><T x={1478} y={537} s="riskscore" size={15} anchor="middle" /><T x={1800} y={537} s="riskscore" size={15} anchor="middle" />
    <T x={1345} y={149} s="JAVELIN" size={15} anchor="middle" rot={-90} />
    <T x={1664} y={149} s="Tumor inflammation signature" size={14.5} anchor="middle" rot={-90} />
    <T x={1345} y={417} s={'IMmotion150 T\u2212effector (Teff) signature'} size={14.5} anchor="middle" rot={-90} />
    <T x={1664} y={417} s="IMmotion150 Myeloid signature" size={14.5} anchor="middle" rot={-90} />
    <T x={1365} y={992} s="" />

    {/* D legends */}
    <T x={1261} y={1001} s="Riskscore" size={17} />
    <T x={495} y={793} s="relations" size={18} />
    <rect x={495} y={811} width={30} height={60} fill="#efefef" />
    <line x1={498} x2={523} y1={826} y2={826} stroke="#000" strokeWidth={1.5} /><line x1={498} x2={523} y1={856} y2={856} stroke="#000" strokeWidth={1.5} strokeDasharray="3 3" />
    <T x={535} y={826} s="positive" size={14.5} /><T x={535} y={856} s="negative" size={14.5} />
    <T x={495} y={919} s="P Value" size={18} />
    <rect x={495} y={937} width={30} height={150} fill="#efefef" />
    {relY.map(([y, s, c]) => <g key={s}><line x1={498} x2={523} y1={y} y2={y} stroke={c} strokeWidth={1.6} /><T x={535} y={y} s={s} size={14.5} /></g>)}
    <T x={495} y={1135} s={'spearman\u2019s r'} size={18} />
    <rect x={495} y={1152} width={30} height={90} fill="#efefef" />
    {[[1168, 1.5, '0.25'], [1198, 3, '0.50'], [1228, 5.5, '1.00']].map(([y, w, s]: any) => <g key={s}><line x1={498} x2={523} y1={y} y2={y} stroke="#000" strokeWidth={w} /><T x={535} y={y} s={s} size={14.5} /></g>)}
    <T x={495} y={1290} s={'spearman\u2019s r'} size={18} />
    <rect x={495} y={1308} width={30} height={151} fill="url(#sp)" />
    {[[1308, '1.00'], [1338, '0.75'], [1367, '0.50'], [1396, '0.25'], [1426, '0.00'], [1455.5, '\u22120.25']].map(([y, s]: any) => <T key={s} x={532} y={y} s={s} size={14.5} />)}

    {/* E labels */}
    <RP x={1743} y={1326} r="0.19" p={'1.9e\u221205'} size={15.5} />
    <T x={1510} y={1496} s={'Pan\u2212cancer T cell\u2212inflamed Score'} size={15.5} anchor="middle" rot={-90} />
    <T x={1728} y={1705} s="Riskscore" size={15} anchor="middle" />

    {/* F annotations */}
    <rect x={450.5} y={1530} width={103} height={27} fill={LOW} /><rect x={564} y={1530} width={103} height={27} fill={HIGH} />
    <T x={675} y={1544} s="risk" size={26} bold />
    {annF.map(([a, b, c]) => <rect key={c} x={416} y={a} width={27} height={b - a} fill={c} />)}
    <T x={429} y={2419} s="Type" size={24} bold anchor="middle" rot={90} />
    <rect x={808} y={1527} width={26} height={402} fill="url(#hm)" />
    {[['1', 1527], ['0.5', 1627], ['0', 1728], ['\u22120.5', 1828], ['\u22121', 1928]].map(([s, y]: any) => <T key={s} x={846} y={y} s={s} size={24} />)}
    <T x={806} y={1963} s="Type" size={27} bold />
    {typeLeg.map(([s, c], i) => <g key={s}><rect x={806} y={1982.5 + i * 38} width={38} height={38} fill={c} /><T x={852} y={2001.5 + i * 38} s={s} size={27} /></g>)}
    <T x={806} y={2218} s="risk" size={27} bold />
    <rect x={806} y={2237} width={38} height={38} fill={HIGH} /><rect x={806} y={2275} width={38} height={38} fill={LOW} />
    <T x={852} y={2256} s="high" size={27} /><T x={852} y={2294} s="low" size={27} />
  </svg>;
}

const dCells: any[] = []; dMatrix.forEach((row: number[], i) => { row.forEach((v, j) => dCells.push({ col: j, row: i, v })); dCells.push({ col: i, row: i, v: 1 }); });
const dEnds = dGenes.map((_, i) => ({ col: i + 1, row: i, r: dLinkR[i], p: dLinkP[i] }));
const uCells: any[] = []; uMatrix.forEach((row: number[], i) => { uCells.push({ col: i, row: i, v: 1 }); row.forEach((v, j) => uCells.push({ col: i + 1 + j, row: i, v })); });
const uEnds = uGenes.map((_, i) => ({ col: i - 1, row: i, r: uLinkR[i], p: uLinkP[i] }));

export default function App() {
  const A = { left: 54, rowH: 19.32, cellW: 77 / 24, gap: 3.12, cols: 24, labelW: 120, fontSize: 24 };
  const F = { left: 450.5, rowH: 22.1, cellW: 103 / 26, gap: 2.65, cols: 26, labelW: 140, fontSize: 26 };
  return <div style={{ position: 'absolute', left: 0, top: 0, width: 1965, height: 2499, background: '#fff', fontFamily: FONT }}>
    <Heat {...A} top={75} genes={chemokineGenes} low={chemokineLow} high={chemokineHigh} />
    <Heat {...A} top={875} genes={immunoGenes} low={immunoLow} high={immunoHigh} />
    <Heat {...A} top={1694} genes={mhcGenes} low={mhcLow} high={mhcHigh} />
    <Heat {...A} top={2109} genes={receptorGenes} low={receptorLow} high={receptorHigh} />
    <Heat {...F} top={1565} genes={cd8Genes} low={cd8Low} high={cd8High} />
    <Heat {...F} top={1840} genes={dcGenes} low={dcLow} high={dcHigh} />
    <Heat {...F} top={1983} genes={macGenes} low={macLow} high={macHigh} />
    <Heat {...F} top={2171} genes={nkGenes} low={nkLow} high={nkHigh} />
    <Heat {...F} top={2314} genes={th1Genes} low={th1Low} high={th1High} />
    <PanelB />
    <ScatterPanel left={1381} top={56.4} w={195.6} h={185} xd={[-1.709, 1.456]} yd={[.28, .789]} yTicks={[.3, .4, .5, .6, .7]} digits={1} ys={javelinPct} fit={javelinFit} dens={javelinDens} />
    <ScatterPanel left={1699} top={56.4} w={196} h={185} xd={[-1.709, 1.456]} yd={[.556, .94]} yTicks={[.6, .7, .8, .9]} digits={1} ys={tisPct} fit={tisFit} dens={tisDens} />
    <ScatterPanel left={1381} top={324} w={195.6} h={185} xd={[-1.709, 1.456]} yd={[-.029, .742]} yTicks={[0, .2, .4, .6]} digits={1} ys={teffPct} fit={teffFit} dens={teffDens} />
    <ScatterPanel left={1706} top={324} w={190} h={185} xd={[-1.717, 1.45]} yd={[.141, 1.044]} yTicks={[.25, .5, .75, 1]} digits={2} ys={myeloidPct} fit={myeloidFit} dens={myeloidDens} />
    <Tri left={1212} top={570.4} cell={31.75} genes={uGenes} cells={uCells} ends={uEnds} hub={{ col: 2.93, row: 12.78 }} domain={[-1.5, 18.5]} side="right" labelW={105} curv={-.13} />
    <Tri left={763.8} top={819.5} cell={26.22} genes={dGenes} cells={dCells} ends={dEnds} hub={{ col: 18.3, row: 6.43 }} domain={[-.5, 24]} side="left" labelW={110} curv={.12} />
    <PanelE />
    <PanelG />
    <GBar />
    <Overlay />
  </div>;
}
